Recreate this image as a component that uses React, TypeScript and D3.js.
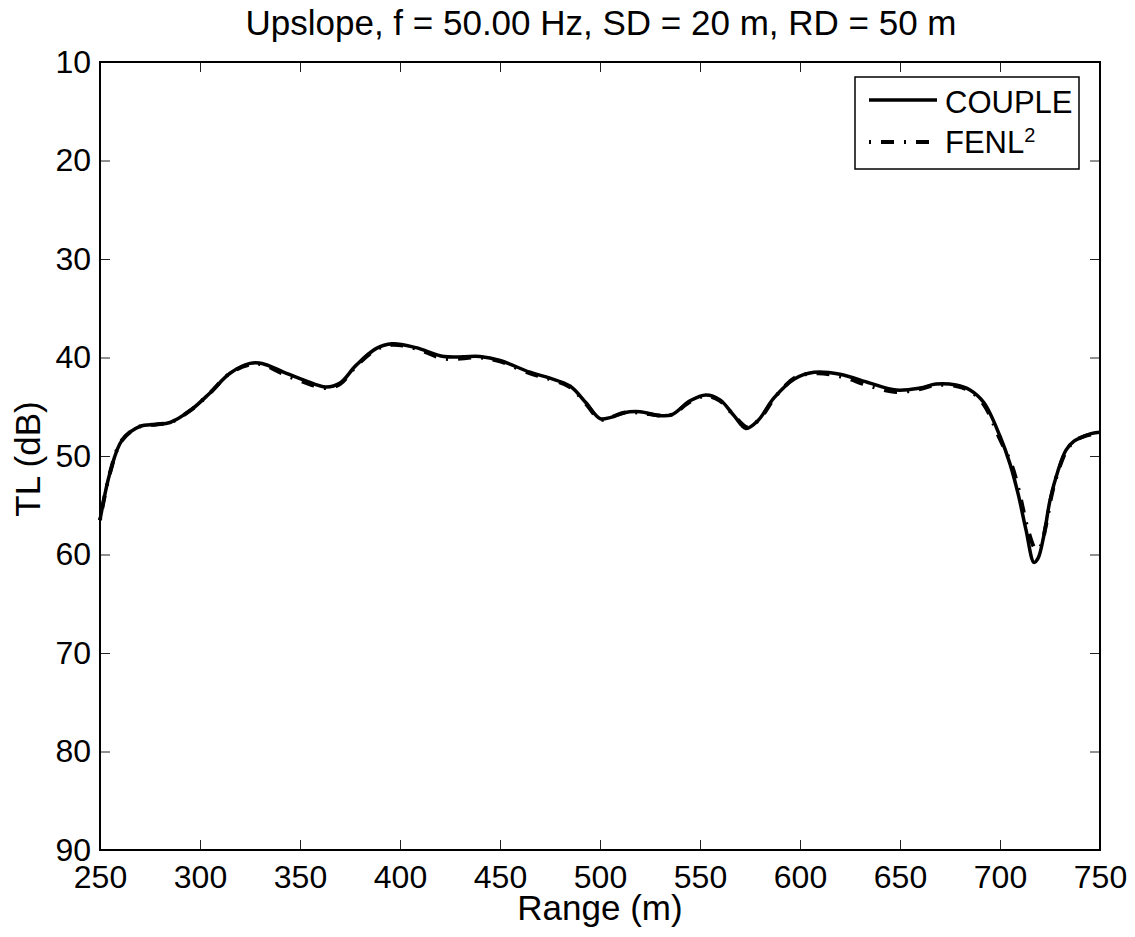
import React, { useEffect, useRef } from "react";
import * as d3 from "d3";

// Range (m) and TL (dB)
const rangeCouple = [250, 255, 261, 270, 278, 285, 295, 305, 315, 325, 331, 342, 352, 363, 370, 378, 388, 396, 408, 422, 440, 450, 465, 475, 485, 493, 500, 505, 512, 520, 530, 536, 545, 553, 560, 567, 573, 579, 587, 597, 607, 620, 635, 648, 660, 668, 678, 685, 692, 700, 705, 709, 713, 717, 719, 722, 725, 729, 733, 737, 742, 746, 750];
const tlCouple = [56.5, 51.7, 48.4, 47.0, 46.8, 46.6, 45.4, 43.6, 41.6, 40.6, 40.6, 41.5, 42.3, 43.0, 42.6, 40.8, 39.1, 38.6, 39.0, 39.9, 39.9, 40.3, 41.5, 42.1, 42.9, 44.6, 46.2, 46.1, 45.6, 45.5, 45.9, 45.8, 44.4, 43.8, 44.3, 45.9, 47.2, 46.4, 44.1, 42.2, 41.5, 41.7, 42.6, 43.3, 43.1, 42.7, 42.8, 43.3, 44.6, 48.0, 50.8, 53.8, 57.5, 60.8, 60.4, 58.0, 54.5, 51.5, 49.4, 48.5, 48.0, 47.7, 47.6];

const rangeFenl = [250, 255, 261, 270, 278, 285, 295, 305, 315, 325, 331, 342, 352, 363, 370, 378, 388, 396, 408, 422, 440, 450, 465, 475, 485, 493, 500, 505, 512, 520, 530, 536, 545, 553, 560, 567, 574, 580, 588, 598, 608, 620, 635, 648, 660, 668, 678, 685, 692, 700, 706, 710, 714, 718, 720, 723, 726, 730, 734, 738, 742, 746, 750];
const tlFenl = [56.5, 51.7, 48.4, 47.0, 46.8, 46.6, 45.4, 43.6, 41.6, 40.7, 40.7, 41.7, 42.5, 43.1, 42.7, 40.9, 39.2, 38.7, 39.1, 40.1, 40.0, 40.4, 41.6, 42.2, 43.0, 44.7, 46.3, 46.1, 45.6, 45.6, 45.9, 45.8, 44.5, 43.9, 44.4, 45.9, 47.1, 46.2, 43.9, 42.0, 41.6, 41.9, 42.9, 43.5, 43.2, 42.8, 42.9, 43.4, 44.8, 48.3, 51.0, 54.0, 57.5, 59.5, 59.3, 57.0, 53.8, 51.0, 49.2, 48.4, 48.0, 47.8, 47.7];

const xTicks = [250, 300, 350, 400, 450, 500, 550, 600, 650, 700, 750];
const yTicks = [10, 20, 30, 40, 50, 60, 70, 80, 90];

const W = 1135;
const H = 937;
const margin = { top: 62, right: 35, bottom: 87, left: 100 };
const FONT = "'Liberation Sans', Arial, Helvetica, sans-serif";

export default function App() {
  const ref = useRef<SVGSVGElement>(null);

  useEffect(() => {
    const svg = d3.select(ref.current);
    svg.selectAll("*").remove();

    const width = W - margin.left - margin.right;
    const height = H - margin.top - margin.bottom;

    const x = d3.scaleLinear().domain([250, 750]).range([0, width]);
    const y = d3.scaleLinear().domain([10, 90]).range([0, height]);

    const g = svg.append("g").attr("transform", `translate(${margin.left},${margin.top})`);

    // ticks on all four sides, pointing inward
    const tickLen = 10;
    const drawAxis = (axis: any, tx: number, ty: number, labels: boolean) => {
      const a = g.append("g").attr("transform", `translate(${tx},${ty})`).call(axis);
      a.select(".domain").remove();
      a.selectAll(".tick line").attr("stroke", "#222").attr("stroke-width", 1);
      if (!labels) a.selectAll(".tick text").remove();
      else a.selectAll(".tick text").attr("font-family", FONT).attr("font-size", 32).attr("fill", "#000");
      return a;
    };

    drawAxis(d3.axisBottom(x).tickValues(xTicks).tickSize(-tickLen).tickPadding(15).tickFormat(d3.format("d")), 0, height, true);
    drawAxis(d3.axisTop(x).tickValues(xTicks).tickSize(-tickLen), 0, 0, false);
    drawAxis(d3.axisLeft(y).tickValues(yTicks).tickSize(-tickLen).tickPadding(9).tickFormat(d3.format("d")), 0, 0, true);
    drawAxis(d3.axisRight(y).tickValues(yTicks).tickSize(-tickLen), width, 0, false);

    g.append("rect")
      .attr("width", width)
      .attr("height", height)
      .attr("fill", "none")
      .attr("stroke", "#000")
      .attr("stroke-width", 2);

    const fenlPts: [number, number][] = rangeFenl.map((r, i) => [x(r), y(tlFenl[i])]);
    const couplePts: [number, number][] = rangeCouple.map((r, i) => [x(r), y(tlCouple[i])]);
    const path = d3.line().curve(d3.curveCatmullRom.alpha(0.5));

    g.append("path")
      .attr("d", path(fenlPts))
      .attr("fill", "none")
      .attr("stroke", "#000")
      .attr("stroke-width", 4)
      .attr("stroke-dasharray", "2 10 13 10");

    g.append("path")
      .attr("d", path(couplePts))
      .attr("fill", "none")
      .attr("stroke", "#000")
      .attr("stroke-width", 3.5);

    // legend
    const lg = svg.append("g").attr("transform", "translate(855,77)");
    lg.append("rect").attr("width", 224).attr("height", 92).attr("fill", "#fff").attr("stroke", "#000").attr("stroke-width", 1.5);
    lg.append("line").attr("x1", 14).attr("x2", 82).attr("y1", 23).attr("y2", 23).attr("stroke", "#000").attr("stroke-width", 3.5);
    lg.append("line").attr("x1", 14).attr("x2", 82).attr("y1", 65).attr("y2", 65).attr("stroke", "#000").attr("stroke-width", 4).attr("stroke-dasharray", "2 10 13 10");
    lg.append("text").attr("x", 90).attr("y", 36).attr("font-family", FONT).attr("font-size", 31).text("COUPLE");
    const t2 = lg.append("text").attr("x", 90).attr("y", 76).attr("font-family", FONT).attr("font-size", 31);
    t2.append("tspan").text("FENL");
    t2.append("tspan").attr("dy", -11).attr("font-size", 20).text("2");

    // title and axis labels
    svg.append("text").attr("x", 601).attr("y", 35).attr("text-anchor", "middle")
      .attr("font-family", FONT).attr("font-size", 35).text("Upslope, f = 50.00 Hz, SD = 20 m, RD = 50 m");
    svg.append("text").attr("x", margin.left + width / 2).attr("y", 920).attr("text-anchor", "middle")
      .attr("font-family", FONT).attr("font-size", 35).text("Range (m)");
    svg.append("text").attr("transform", `translate(40,459) rotate(-90)`).attr("text-anchor", "middle")
      .attr("font-family", FONT).attr("font-size", 35).text("TL (dB)");
  }, []);

  return (
    <svg ref={ref} width={W} height={H} style={{ position: "absolute", left: 0, top: 0, background: "#fff" }} />
  );
}
